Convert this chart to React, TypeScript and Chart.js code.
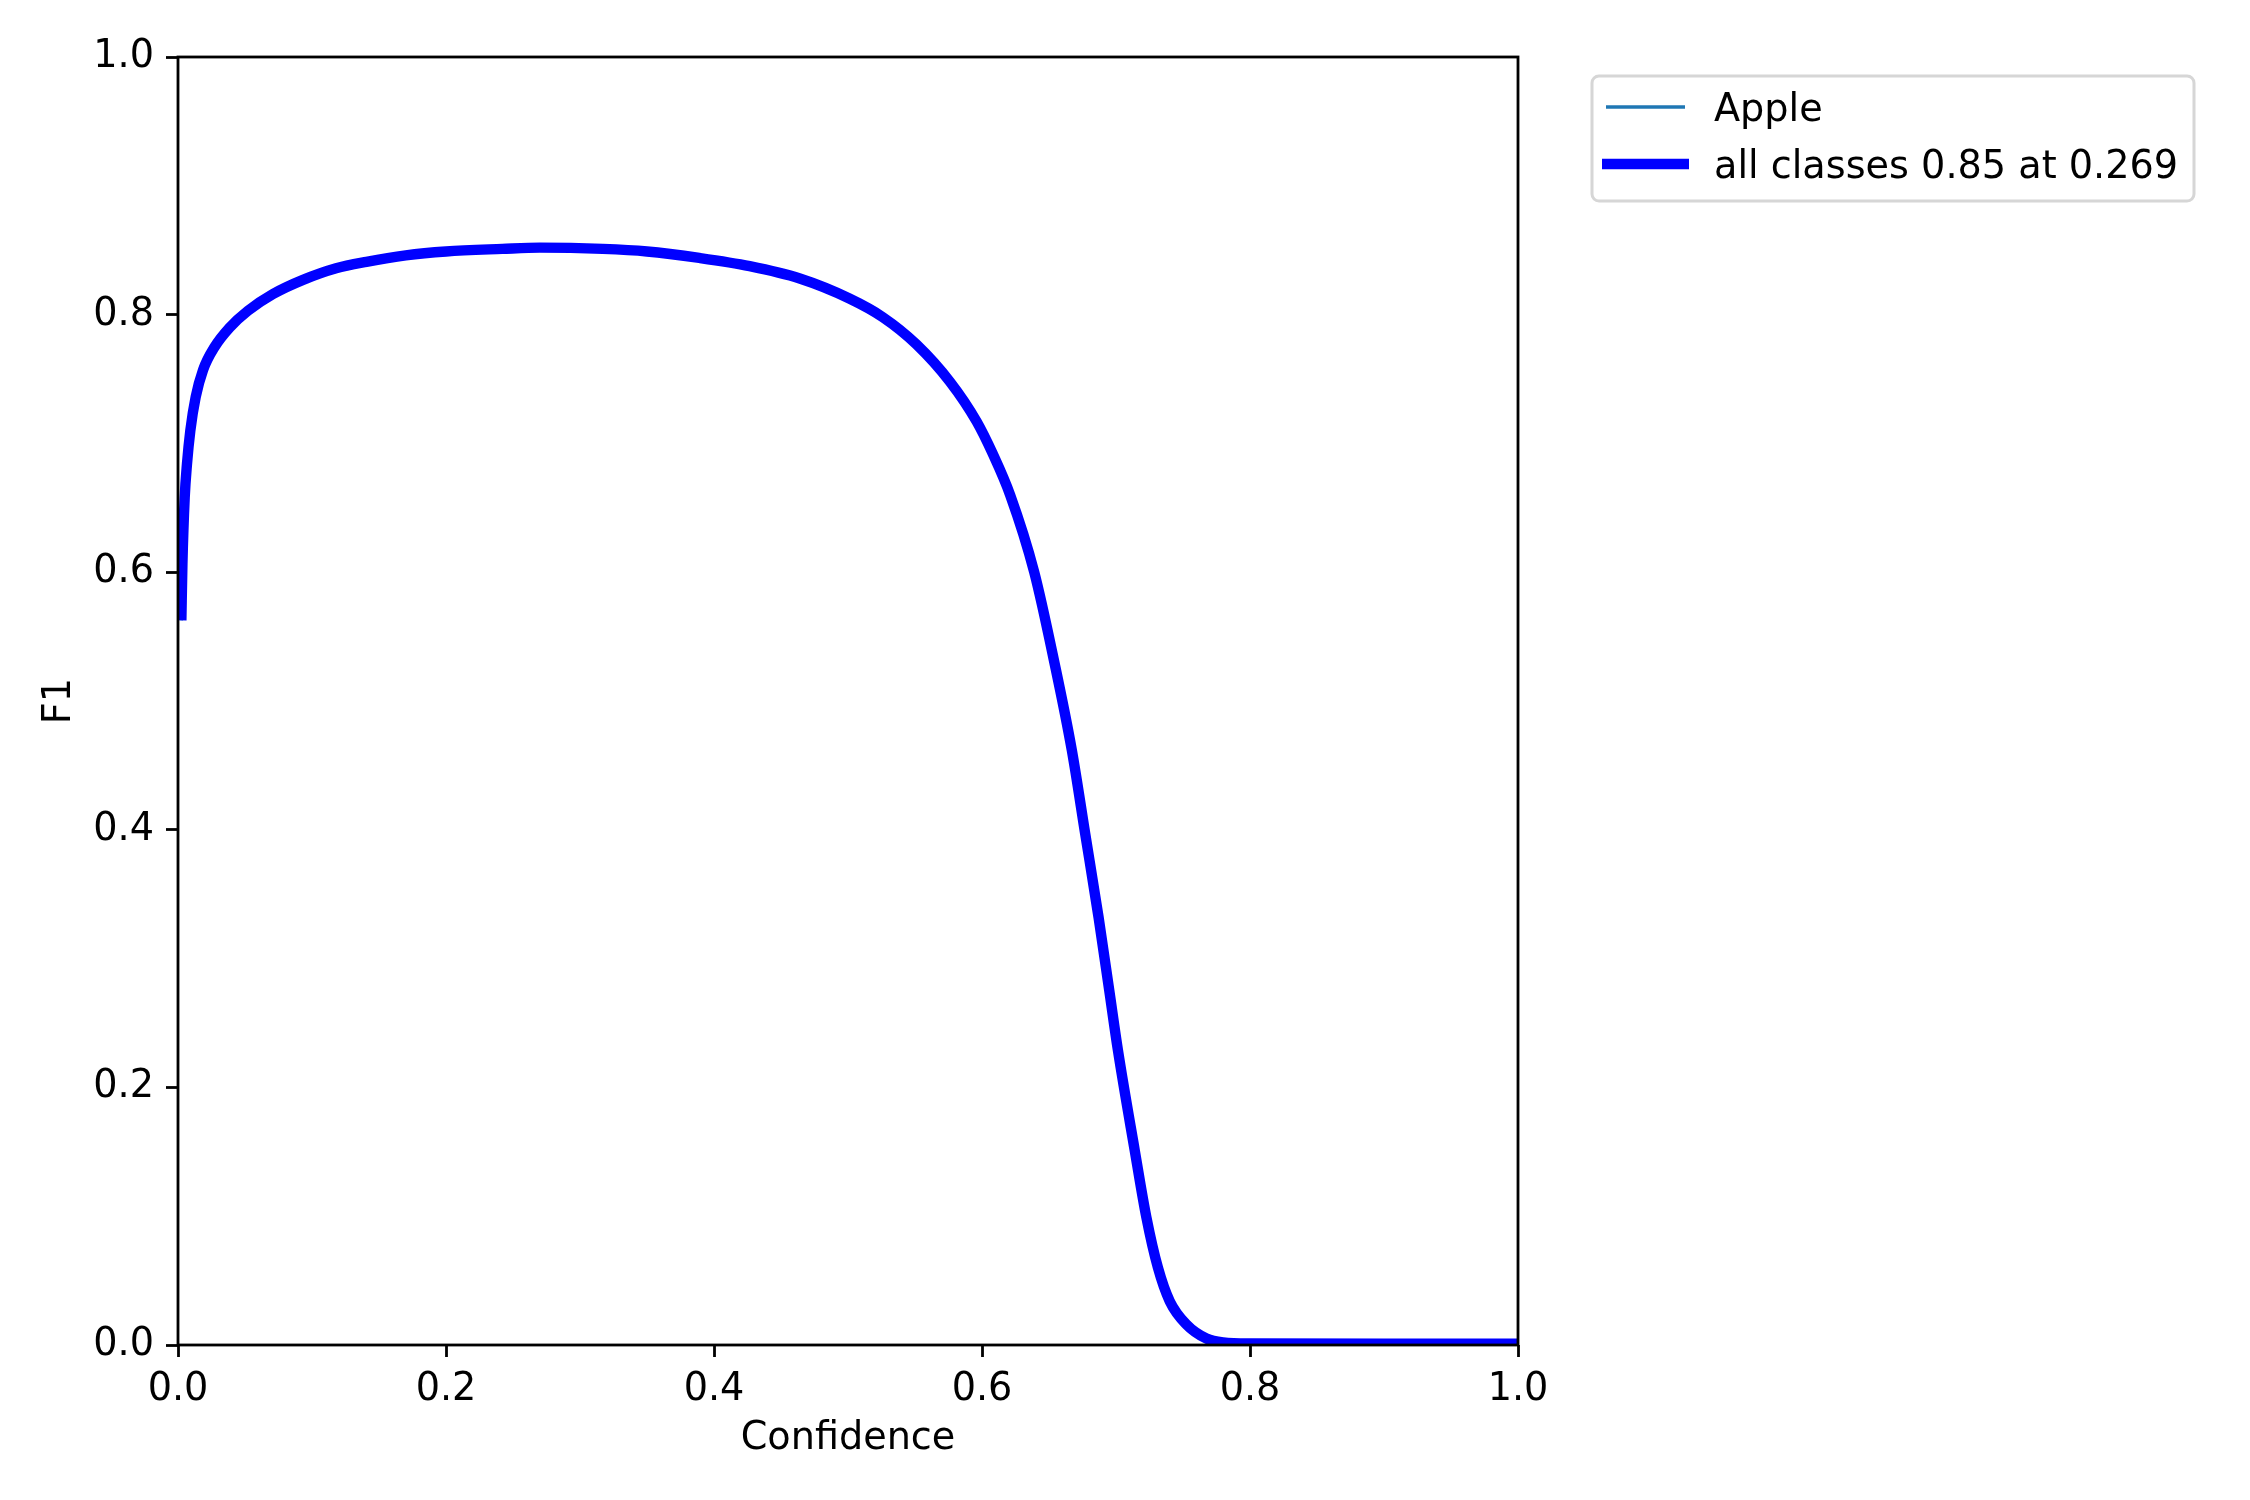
import React, { useEffect, useRef } from 'react';
import { Chart, registerables } from 'chart.js';

Chart.register(...registerables);

// ---- data ----
const confidence = [
  0.0025, 0.0033, 0.005, 0.0067, 0.0092, 0.0132, 0.0187, 0.0274, 0.0386, 0.0522,
  0.0709, 0.0933, 0.118, 0.1406, 0.17, 0.2, 0.242, 0.27, 0.317, 0.35,
  0.389, 0.4266, 0.464, 0.501, 0.526, 0.551, 0.576, 0.596, 0.608, 0.621,
  0.639, 0.654, 0.667, 0.677, 0.687, 0.695, 0.7015, 0.714, 0.7227, 0.7313,
  0.7401, 0.7525, 0.7675, 0.78, 0.8, 0.9, 1.0,
];
const appleF1 = [
  0.5626, 0.6066, 0.658, 0.684, 0.71, 0.736, 0.757, 0.775, 0.79, 0.803,
  0.816, 0.827, 0.836, 0.841, 0.846, 0.849, 0.851, 0.852, 0.851, 0.849,
  0.844, 0.8376, 0.828, 0.8125, 0.798, 0.777, 0.748, 0.717, 0.692, 0.66,
  0.6, 0.53, 0.462, 0.397, 0.332, 0.275, 0.2284, 0.151, 0.099, 0.06,
  0.034, 0.016, 0.005, 0.002, 0.0012, 0.001, 0.001,
];
// mean over all classes (only one class here)
const allClassesF1 = [
  0.5626, 0.6066, 0.658, 0.684, 0.71, 0.736, 0.757, 0.775, 0.79, 0.803,
  0.816, 0.827, 0.836, 0.841, 0.846, 0.849, 0.851, 0.852, 0.851, 0.849,
  0.844, 0.8376, 0.828, 0.8125, 0.798, 0.777, 0.748, 0.717, 0.692, 0.66,
  0.6, 0.53, 0.462, 0.397, 0.332, 0.275, 0.2284, 0.151, 0.099, 0.06,
  0.034, 0.016, 0.005, 0.002, 0.0012, 0.001, 0.001,
];
const seriesLabels = ['Apple', 'all classes 0.85 at 0.269'];
const xTickValues = [0, 0.2, 0.4, 0.6, 0.8, 1.0];
const yTickValues = [0, 0.2, 0.4, 0.6, 0.8, 1.0];
const xTitle = 'Confidence';
const yTitle = 'F1';

// ---- styles ----
const FAMILY = "'DejaVu Sans', 'Liberation Sans', sans-serif";
const FS = 38.2;
const W = 2250;
const H = 1500;
const AREA = { left: 178, top: 57, right: 1518, bottom: 1345 };

const spinesAndLegend = {
  id: 'spinesAndLegend',
  afterDatasetsDraw(chart: any) {
    const { ctx, chartArea } = chart;
    ctx.save();
    ctx.strokeStyle = '#000';
    ctx.lineWidth = 2.8;
    ctx.strokeRect(chartArea.left, chartArea.top, chartArea.right - chartArea.left, chartArea.bottom - chartArea.top);
    ctx.restore();
  },
  afterDraw(chart: any) {
    const { ctx } = chart;
    ctx.save();
    // frame
    const fx = 1592, fy = 76, fw = 602, fh = 125, r = 7;
    ctx.beginPath();
    ctx.moveTo(fx + r, fy);
    ctx.lineTo(fx + fw - r, fy);
    ctx.arcTo(fx + fw, fy, fx + fw, fy + r, r);
    ctx.lineTo(fx + fw, fy + fh - r);
    ctx.arcTo(fx + fw, fy + fh, fx + fw - r, fy + fh, r);
    ctx.lineTo(fx + r, fy + fh);
    ctx.arcTo(fx, fy + fh, fx, fy + fh - r, r);
    ctx.lineTo(fx, fy + r);
    ctx.arcTo(fx, fy, fx + r, fy, r);
    ctx.closePath();
    ctx.fillStyle = 'rgba(255,255,255,0.8)';
    ctx.fill();
    ctx.strokeStyle = '#d6d6d6';
    ctx.lineWidth = 3;
    ctx.stroke();

    const ds = chart.data.datasets;
    const rows = [
      { y: 107, base: 121, x0: 1606, x1: 1685 },
      { y: 164, base: 178, x0: 1602, x1: 1689 },
    ];
    ds.forEach((d: any, i: number) => {
      const row = rows[i];
      ctx.beginPath();
      ctx.moveTo(row.x0, row.y);
      ctx.lineTo(row.x1, row.y);
      ctx.strokeStyle = d.borderColor;
      ctx.lineWidth = d.borderWidth;
      ctx.lineCap = 'butt';
      ctx.stroke();
      ctx.fillStyle = '#000';
      ctx.font = `${FS}px ${FAMILY}`;
      ctx.textBaseline = 'alphabetic';
      ctx.textAlign = 'left';
      ctx.fillText(d.label, 1714, row.base);
    });
    ctx.restore();
  },
};

export default function App() {
  const ref = useRef<HTMLCanvasElement | null>(null);
  useEffect(() => {
    if (!ref.current) return;
    const toPts = (ys: number[]) => confidence.map((x, i) => ({ x, y: ys[i] }));
    const font = { family: FAMILY, size: FS, lineHeight: 1.2 };
    const chart = new Chart(ref.current, {
      type: 'line',
      data: {
        datasets: [
          {
            label: seriesLabels[0],
            data: toPts(appleF1),
            borderColor: '#1f77b4',
            borderWidth: 3.5,
            pointRadius: 0,
            cubicInterpolationMode: 'monotone',
            order: 1,
            clip: 0,
            fill: false,
          },
          {
            label: seriesLabels[1],
            data: toPts(allClassesF1),
            borderColor: '#0000ff',
            borderWidth: 10.4,
            pointRadius: 0,
            cubicInterpolationMode: 'monotone',
            order: 0,
            clip: 0,
            fill: false,
          },
        ],
      } as any,
      options: {
        animation: false,
        responsive: false,
        devicePixelRatio: 1,
        layout: { padding: { left: 0, top: AREA.top, right: W - AREA.right, bottom: 0 } },
        plugins: { legend: { display: false }, tooltip: { enabled: false } },
        scales: {
          x: {
            type: 'linear',
            min: 0,
            max: 1,
            afterFit: (s: any) => { s.height = H - AREA.bottom; },
            afterBuildTicks: (s: any) => { s.ticks = xTickValues.map((v) => ({ value: v })); },
            ticks: {
              callback: (v: any) => Number(v).toFixed(1),
              font,
              color: '#000',
              padding: 10,
              maxRotation: 0,
              autoSkip: false,
            },
            grid: { drawOnChartArea: false, drawTicks: true, tickLength: 12, tickWidth: 2.8, tickColor: '#000' },
            border: { display: false },
            title: { display: true, text: xTitle, font, color: '#000', padding: { top: 0, bottom: 38 } },
          },
          y: {
            type: 'linear',
            min: 0,
            max: 1,
            afterFit: (s: any) => { s.width = AREA.left; },
            afterBuildTicks: (s: any) => { s.ticks = yTickValues.map((v) => ({ value: v })); },
            ticks: {
              callback: (v: any) => Number(v).toFixed(1),
              font,
              color: '#000',
              padding: 12,
              autoSkip: false,
            },
            grid: { drawOnChartArea: false, drawTicks: true, tickLength: 12, tickWidth: 2.8, tickColor: '#000' },
            border: { display: false },
            title: { display: true, text: yTitle, font, color: '#000', padding: { top: 37, bottom: 0 } },
          },
        },
      } as any,
      plugins: [spinesAndLegend],
    });
    return () => chart.destroy();
  }, []);
  return (
    <div style={{ position: 'fixed', left: 0, top: 0, width: W, height: H, background: '#fff' }}>
      <canvas ref={ref} width={W} height={H} style={{ width: W, height: H, display: 'block' }} />
    </div>
  );
}
